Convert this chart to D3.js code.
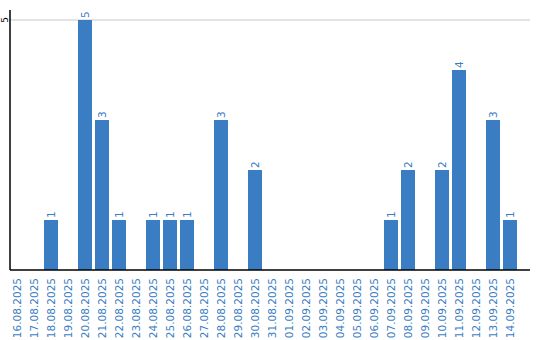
<!DOCTYPE html>
<html>
<head>
<meta charset="utf-8">
<script src="https://cdn.jsdelivr.net/npm/d3@7"></script>
<style>
  body { margin: 0; background: #fff; }
  svg { display: block; font-family: "DejaVu Sans", Verdana, sans-serif; }
</style>
</head>
<body>
<svg id="chart" width="540" height="340"></svg>
<script>
const dates = [
  '16.08.2025', '17.08.2025', '18.08.2025', '19.08.2025', '20.08.2025',
  '21.08.2025', '22.08.2025', '23.08.2025', '24.08.2025', '25.08.2025',
  '26.08.2025', '27.08.2025', '28.08.2025', '29.08.2025', '30.08.2025',
  '31.08.2025', '01.09.2025', '02.09.2025', '03.09.2025', '04.09.2025',
  '05.09.2025', '06.09.2025', '07.09.2025', '08.09.2025', '09.09.2025',
  '10.09.2025', '11.09.2025', '12.09.2025', '13.09.2025', '14.09.2025'
];
const counts = [0, 0, 1, 0, 5, 3, 1, 0, 1, 1, 1, 0, 3, 0, 2, 0, 0, 0, 0, 0, 0, 0, 1, 2, 0, 2, 4, 0, 3, 1];
const yTicks = [5];

const blue = '#3a7dc2';
const m = { left: 10, right: 520, top: 10, bottom: 270, axisEnd: 530 };

const svg = d3.select('#chart');

// each band holds a bar plus a 3px gap on its right
const x = d3.scaleBand().domain(dates).range([m.left, m.right]).padding(0);
const y = d3.scaleLinear().domain([0, 5.2]).range([m.bottom, m.top]);
const bw = x.bandwidth() - 3;

const data = dates.map((d, i) => ({ date: d, value: counts[i] }));
const shown = data.filter((d) => d.value > 0);

// gridline
svg.append('g')
  .selectAll('line')
  .data(yTicks)
  .join('line')
  .attr('x1', m.left).attr('x2', m.axisEnd)
  .attr('y1', (d) => y(d)).attr('y2', (d) => y(d))
  .attr('stroke', '#c8c8c8').attr('stroke-width', 1);

svg.append('g')
  .selectAll('rect')
  .data(shown)
  .join('rect')
  .attr('x', (d) => x(d.date))
  .attr('y', (d) => y(d.value))
  .attr('width', bw)
  .attr('height', (d) => m.bottom - y(d.value))
  .attr('fill', blue);

// value labels
svg.append('g')
  .selectAll('text')
  .data(shown)
  .join('text')
  .attr('transform', (d) => `translate(${x(d.date) + bw / 2 + 4},${y(d.value) - 2}) rotate(-90)`)
  .attr('fill', blue)
  .attr('font-size', 10.5)
  .attr('text-anchor', 'start')
  .text((d) => d.value);

// axis lines
svg.append('line').attr('x1', m.left).attr('x2', m.left).attr('y1', m.top).attr('y2', m.bottom)
  .attr('stroke', '#000').attr('stroke-width', 1.5);
svg.append('line').attr('x1', m.left).attr('x2', m.axisEnd).attr('y1', m.bottom).attr('y2', m.bottom)
  .attr('stroke', '#000').attr('stroke-width', 1.5);

// y tick labels
svg.append('g')
  .selectAll('text')
  .data(yTicks)
  .join('text')
  .attr('transform', (d) => `translate(8,${y(d)}) rotate(-90)`)
  .attr('text-anchor', 'middle')
  .attr('fill', '#000')
  .attr('font-size', 9)
  .text((d) => d);

// x labels
svg.append('g')
  .selectAll('text')
  .data(data)
  .join('text')
  .attr('transform', (d) => `translate(${x(d.date) + bw / 2 + 4},278) rotate(-90)`)
  .attr('text-anchor', 'end')
  .attr('fill', blue)
  .attr('font-size', 10.5)
  .text((d) => d.date);
</script>
</body>
</html>
